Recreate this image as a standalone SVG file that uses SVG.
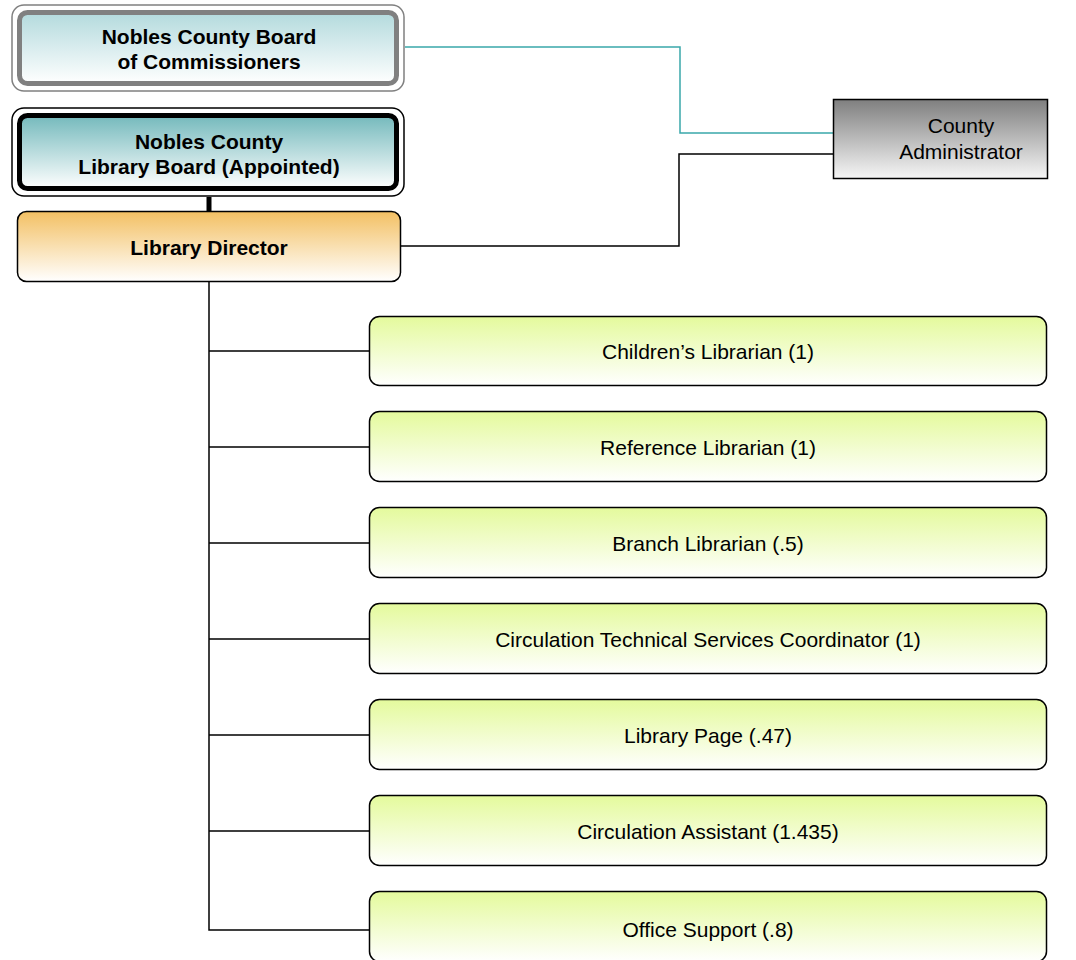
<svg xmlns="http://www.w3.org/2000/svg" width="1076" height="960" viewBox="0 0 1076 960">
<defs>
<linearGradient id="gTeal1" x1="0" y1="0" x2="0" y2="1"><stop offset="0" stop-color="#b3dadd"/><stop offset="1" stop-color="#ffffff"/></linearGradient>
<linearGradient id="gTeal2" x1="0" y1="0" x2="0" y2="1"><stop offset="0" stop-color="#74b9bc"/><stop offset="1" stop-color="#ffffff"/></linearGradient>
<linearGradient id="gOrange" x1="0" y1="0" x2="0" y2="1"><stop offset="0" stop-color="#f3c063"/><stop offset="1" stop-color="#ffffff"/></linearGradient>
<linearGradient id="gGray" x1="0" y1="0" x2="0" y2="1"><stop offset="0" stop-color="#7f7f7f"/><stop offset="1" stop-color="#f6f6f6"/></linearGradient>
<linearGradient id="gGreen" x1="0" y1="0" x2="0" y2="1"><stop offset="0" stop-color="#e4fa9c"/><stop offset="1" stop-color="#ffffff"/></linearGradient>
</defs>
<style>
text{font-family:"Liberation Sans",Arial,sans-serif;fill:#000;text-anchor:middle}
.b{font-weight:bold;font-size:21px}
.n{font-size:21px}
.g rect{fill:url(#gGreen);stroke:#000;stroke-width:1.5}
.ln{fill:none;stroke:#000;stroke-width:1.5}
</style>
<g id="connectors">
<path d="M405 47 H680 V133 H833" fill="none" stroke="#3aa8ab" stroke-width="1.5"/>
<path class="ln" d="M401 246 H679 V154 H833"/>
<path d="M209 197 V212" stroke="#000" stroke-width="5"/>
<path class="ln" d="M209 282 V930 H369"/>
<path class="ln" d="M209 351 H369 M209 447 H369 M209 543 H369 M209 639 H369 M209 735 H369 M209 831 H369"/>
</g>
<g id="board-commissioners">
<rect x="12" y="5" width="392" height="86" rx="12" fill="#fff" stroke="#808080" stroke-width="1.5"/>
<rect x="19.5" y="12.5" width="377" height="71" rx="8" fill="url(#gTeal1)" stroke="#808080" stroke-width="5"/>
<text class="b" x="209" y="44">Nobles County Board</text>
<text class="b" x="209" y="69">of Commissioners</text>
</g>
<g id="library-board">
<rect x="12" y="108" width="392" height="88" rx="12" fill="#fff" stroke="#000" stroke-width="1.5"/>
<rect x="19.5" y="115.5" width="377" height="73" rx="8" fill="url(#gTeal2)" stroke="#000" stroke-width="5"/>
<text class="b" x="209" y="149">Nobles County</text>
<text class="b" x="209" y="174">Library Board (Appointed)</text>
</g>
<g id="library-director">
<rect x="17.5" y="211.5" width="383" height="70" rx="9" fill="url(#gOrange)" stroke="#000" stroke-width="1.5"/>
<text class="b" x="209" y="255">Library Director</text>
</g>
<g id="county-administrator">
<rect x="833.5" y="99.5" width="214" height="79" fill="url(#gGray)" stroke="#000" stroke-width="1.5"/>
<text class="n" x="961" y="133">County</text>
<text class="n" x="961" y="159">Administrator</text>
</g>
<g id="childrens-librarian" class="g"><rect x="369.5" y="316.5" width="677" height="69" rx="10"/><text class="n" x="708" y="359">Children’s Librarian (1)</text></g>
<g id="reference-librarian" class="g"><rect x="369.5" y="411.5" width="677" height="70" rx="10"/><text class="n" x="708" y="455">Reference Librarian (1)</text></g>
<g id="branch-librarian" class="g"><rect x="369.5" y="507.5" width="677" height="70" rx="10"/><text class="n" x="708" y="551">Branch Librarian (.5)</text></g>
<g id="circulation-coordinator" class="g"><rect x="369.5" y="603.5" width="677" height="70" rx="10"/><text class="n" x="708" y="647">Circulation Technical Services Coordinator (1)</text></g>
<g id="library-page" class="g"><rect x="369.5" y="699.5" width="677" height="70" rx="10"/><text class="n" x="708" y="743">Library Page (.47)</text></g>
<g id="circulation-assistant" class="g"><rect x="369.5" y="795.5" width="677" height="70" rx="10"/><text class="n" x="708" y="839">Circulation Assistant (1.435)</text></g>
<g id="office-support" class="g"><rect x="369.5" y="891.5" width="677" height="70" rx="10"/><text class="n" x="708" y="937">Office Support (.8)</text></g>
</svg>
